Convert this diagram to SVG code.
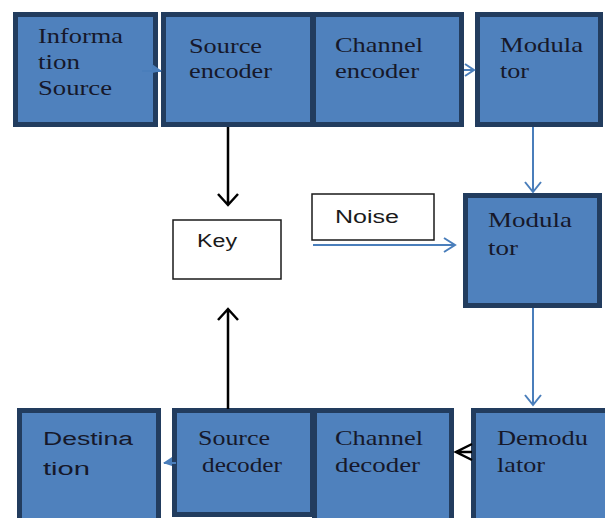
<svg xmlns="http://www.w3.org/2000/svg" width="605" height="518" viewBox="0 0 605 518">
  <style>
    .blk { fill: #4f81bd; stroke: #223c5e; stroke-width: 5; }
    .plain { fill: #ffffff; stroke: #1a1a1a; stroke-width: 1.5; }
    .serif { font-family: "Liberation Serif", "DejaVu Serif", "Noto Serif", serif; font-size: 22px; fill: #16182a; }
    .sans { font-family: "Liberation Sans", Arial, sans-serif; font-size: 18px; fill: #16182a; }
    .lbl { font-family: "Liberation Sans", Arial, sans-serif; font-size: 18px; fill: #1a1a1a; }
    .blue { fill: none; stroke: #4a7ebb; stroke-width: 2; }
    .dark { fill: none; stroke: #000000; stroke-width: 2.5; }
  </style>
  <rect width="605" height="518" fill="#ffffff"/>

  <!-- transmit chain -->
  <g id="information-source">
    <rect class="blk" x="15.5" y="14.5" width="140" height="110"/>
    <text class="serif" x="38" y="43" textLength="85" lengthAdjust="spacingAndGlyphs">Informa</text>
    <text class="serif" x="38" y="69" textLength="42" lengthAdjust="spacingAndGlyphs">tion</text>
    <text class="serif" x="38" y="95" textLength="74" lengthAdjust="spacingAndGlyphs">Source</text>
  </g>
  <g id="source-encoder">
    <rect class="blk" x="163.5" y="14.5" width="149" height="110"/>
    <text class="serif" x="189" y="53" textLength="73" lengthAdjust="spacingAndGlyphs">Source</text>
    <text class="serif" x="189" y="78" textLength="83" lengthAdjust="spacingAndGlyphs">encoder</text>
  </g>
  <g id="channel-encoder">
    <rect class="blk" x="313.5" y="14.5" width="148" height="110"/>
    <text class="serif" x="335" y="52" textLength="88" lengthAdjust="spacingAndGlyphs">Channel</text>
    <text class="serif" x="335" y="78" textLength="84" lengthAdjust="spacingAndGlyphs">encoder</text>
  </g>
  <g id="modulator-tx">
    <rect class="blk" x="477.5" y="14.5" width="123" height="110"/>
    <text class="serif" x="500" y="52" textLength="83" lengthAdjust="spacingAndGlyphs">Modula</text>
    <text class="serif" x="500" y="78" textLength="29" lengthAdjust="spacingAndGlyphs">tor</text>
  </g>

  <!-- middle row -->
  <g id="key">
    <rect class="plain" x="173" y="220" width="108" height="59"/>
    <text class="lbl" x="197" y="247" textLength="40" lengthAdjust="spacingAndGlyphs">Key</text>
  </g>
  <g id="noise">
    <rect class="plain" x="312" y="194" width="122" height="46"/>
    <text class="lbl" x="335" y="223" textLength="64" lengthAdjust="spacingAndGlyphs">Noise</text>
  </g>
  <g id="modulator-channel">
    <rect class="blk" x="465.5" y="195.5" width="134" height="110"/>
    <text class="serif" x="488" y="227" textLength="84" lengthAdjust="spacingAndGlyphs">Modula</text>
    <text class="serif" x="488" y="255" textLength="30" lengthAdjust="spacingAndGlyphs">tor</text>
  </g>

  <!-- receive chain -->
  <g id="destination">
    <rect class="blk" x="19.5" y="410.5" width="139" height="120"/>
    <text class="sans" x="43" y="445" textLength="90" lengthAdjust="spacingAndGlyphs">Destina</text>
    <text class="sans" x="43" y="475" textLength="47" lengthAdjust="spacingAndGlyphs">tion</text>
  </g>
  <g id="source-decoder">
    <rect class="blk" x="174.5" y="410.5" width="138" height="104"/>
    <text class="serif" x="198" y="445" textLength="72" lengthAdjust="spacingAndGlyphs">Source</text>
    <text class="serif" x="202" y="472" textLength="80" lengthAdjust="spacingAndGlyphs">decoder</text>
  </g>
  <g id="channel-decoder">
    <rect class="blk" x="314.5" y="410.5" width="137" height="120"/>
    <text class="serif" x="335" y="445" textLength="88" lengthAdjust="spacingAndGlyphs">Channel</text>
    <text class="serif" x="335" y="472" textLength="85" lengthAdjust="spacingAndGlyphs">decoder</text>
  </g>
  <g id="demodulator">
    <rect class="blk" x="473.5" y="410.5" width="140" height="120"/>
    <text class="serif" x="497" y="445" textLength="91" lengthAdjust="spacingAndGlyphs">Demodu</text>
    <text class="serif" x="497" y="472" textLength="48" lengthAdjust="spacingAndGlyphs">lator</text>
  </g>

  <!-- connectors -->
  <g id="connectors">
    <!-- information source to source encoder -->
    <path class="blue" d="M142 71 H161"/>
    <path d="M152 64 L162 71 L152 73 Z" fill="#4a7ebb"/>
    <!-- channel encoder to modulator -->
    <path class="blue" d="M464 70 H474 M465 64 L474 70 L465 76"/>
    <!-- modulator down to channel modulator -->
    <path class="blue" d="M533 127 V192 M525 182 L533 192 L541 182"/>
    <!-- noise into channel -->
    <path class="blue" d="M313 245 H455 M444 238 L455 245 L444 252"/>
    <!-- channel modulator down to demodulator -->
    <path class="blue" d="M533 308 V405 M525 395 L533 405 L541 395"/>
    <!-- demodulator to channel decoder -->
    <path class="dark" stroke-width="2" d="M472 452 H456 M472 444 L456 452 L472 460"/>
    <!-- source decoder to destination -->
    <path class="blue" d="M176 463 H164"/>
    <path d="M172 457 L163 463 L172 466 Z" fill="#4a7ebb"/>
    <!-- source encoder down to key -->
    <path class="dark" d="M228 127 V204 M218 194 L228 205 L238 194"/>
    <!-- source decoder up to key -->
    <path class="dark" d="M228 409 V309 M218 320 L228 309 L238 320"/>
  </g>
</svg>
